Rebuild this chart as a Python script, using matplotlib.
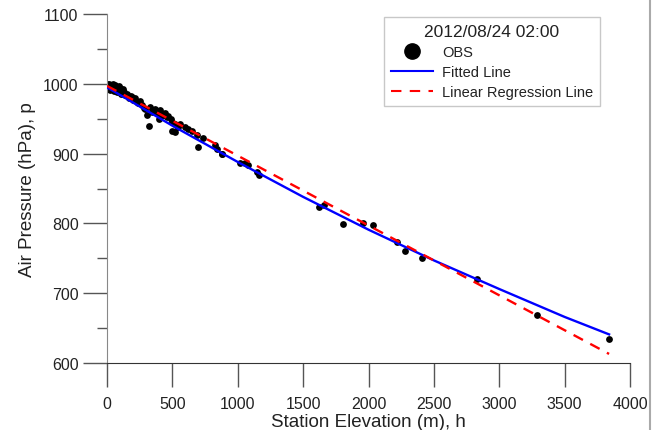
import matplotlib
matplotlib.use("Agg")
import matplotlib.pyplot as plt
from matplotlib.lines import Line2D

plt.rcParams['font.family'] = ['Liberation Sans', 'DejaVu Sans']

# Observations: station elevation (m) and air pressure (hPa)
obs_h = [0, 5, 10, 15, 20, 25, 30, 35, 40, 45, 50, 55, 60, 65, 70, 75, 80, 85, 90, 95,
         100, 105, 110, 115, 120, 125, 130, 140, 150, 160, 170, 180, 190, 200, 215, 227,
         240, 255, 265, 280, 290, 303, 323, 329, 345, 367, 380, 395, 405, 420, 431, 445,
         456, 470, 487, 494, 500, 520, 520, 535, 543, 560, 596, 620, 647, 686, 698, 735,
         826, 839, 877, 879, 1017, 1055, 1078, 1147, 1162, 1621, 1660, 1804, 1957, 2034,
         2217, 2278, 2408, 2829, 3290, 3838]
obs_p = [1000, 997, 993, 999, 995, 991, 998, 996, 993, 1000, 989, 996, 994, 998, 991, 995,
         988, 993, 997, 990, 994, 986, 991, 989, 993, 985, 988, 984, 986, 982, 980, 983,
         981, 977, 979, 974, 972, 975, 969, 966, 964, 955, 940, 967, 960, 964, 958, 950,
         962, 956, 955, 958, 952, 954, 950, 933, 945, 943, 931, 940, 938, 942, 938, 935,
         933, 926, 910, 923, 912, 907, 899, 899, 887, 886, 883, 873, 869, 824, 827, 799,
         801, 797, 773, 760, 751, 720, 669, 634]

# Fitted line
fit_h = [0, 500, 1000, 1500, 2000, 2500, 3000, 3500, 3840]
fit_p = [995, 940, 888, 838, 791, 747, 706, 666, 641]

# Linear regression line
lin_h = [0, 3840]
lin_p = [997, 613]

x_ticks = [0, 500, 1000, 1500, 2000, 2500, 3000, 3500, 4000]
y_ticks = [600, 700, 800, 900, 1000, 1100]

fig = plt.figure(figsize=(6.52, 4.31), dpi=100)
ax = fig.add_axes([107/652, 67/431, 523/652, 349/431])

ax.scatter(obs_h, obs_p, s=24, color='black', zorder=2, linewidths=0)
ax.plot(fit_h, fit_p, color='#0000ff', lw=1.7, zorder=3)
ax.plot(lin_h, lin_p, color='#ff0000', lw=1.7, ls=(0, (4.5, 3.5)), zorder=4)

ax.set_xlim(0, 4000)
ax.set_ylim(600, 1100)
ax.set_xticks(x_ticks)
ax.set_yticks(y_ticks)
ax.set_yticks([650, 750, 850, 950, 1050], minor=True)
ax.tick_params(axis='both', which='major', direction='out', length=17, width=1,
               labelsize=11.5, colors='#555555', labelcolor='#222222')
ax.tick_params(axis='x', which='major', pad=7)
ax.tick_params(axis='y', which='major', pad=3.5)
ax.tick_params(axis='y', which='minor', direction='out', length=7, width=1, colors='#555555')
for s in ['top', 'right']:
    ax.spines[s].set_visible(False)
ax.spines['left'].set_color('#888888')
ax.spines['bottom'].set_color('#333333')

ax.set_xlabel('Station Elevation (m), h', fontsize=13.5, labelpad=1, color='#222222')
ax.set_ylabel('Air Pressure (hPa), p', fontsize=13.5, labelpad=5, color='#222222')

handles = [
    Line2D([], [], ls='none', marker='o', color='black', markersize=11),
    Line2D([], [], color='#0000ff', lw=1.5),
    Line2D([], [], color='#ff0000', lw=1.5, ls=(0, (5, 4))),
]
leg = ax.legend(handles, ['OBS', 'Fitted Line', 'Linear Regression Line'],
                title='2012/08/24 02:00', loc='upper right',
                bbox_to_anchor=(604/652, 417/431), bbox_transform=fig.transFigure,
                fontsize=10.5, title_fontsize=12.5, frameon=True, fancybox=False,
                edgecolor='#bbbbbb', handlelength=2.9, handletextpad=0.6,
                borderpad=0.45, borderaxespad=0.3, labelspacing=0.42)
leg.get_frame().set_linewidth(1)
for t in leg.get_texts():
    t.set_color('#222222')
leg.get_title().set_color('#222222')

fig.add_artist(Line2D([650/652, 650/652], [0, 1], transform=fig.transFigure,
                      color='#aaaaaa', lw=1.5))

fig.savefig('out.png', dpi=100)
